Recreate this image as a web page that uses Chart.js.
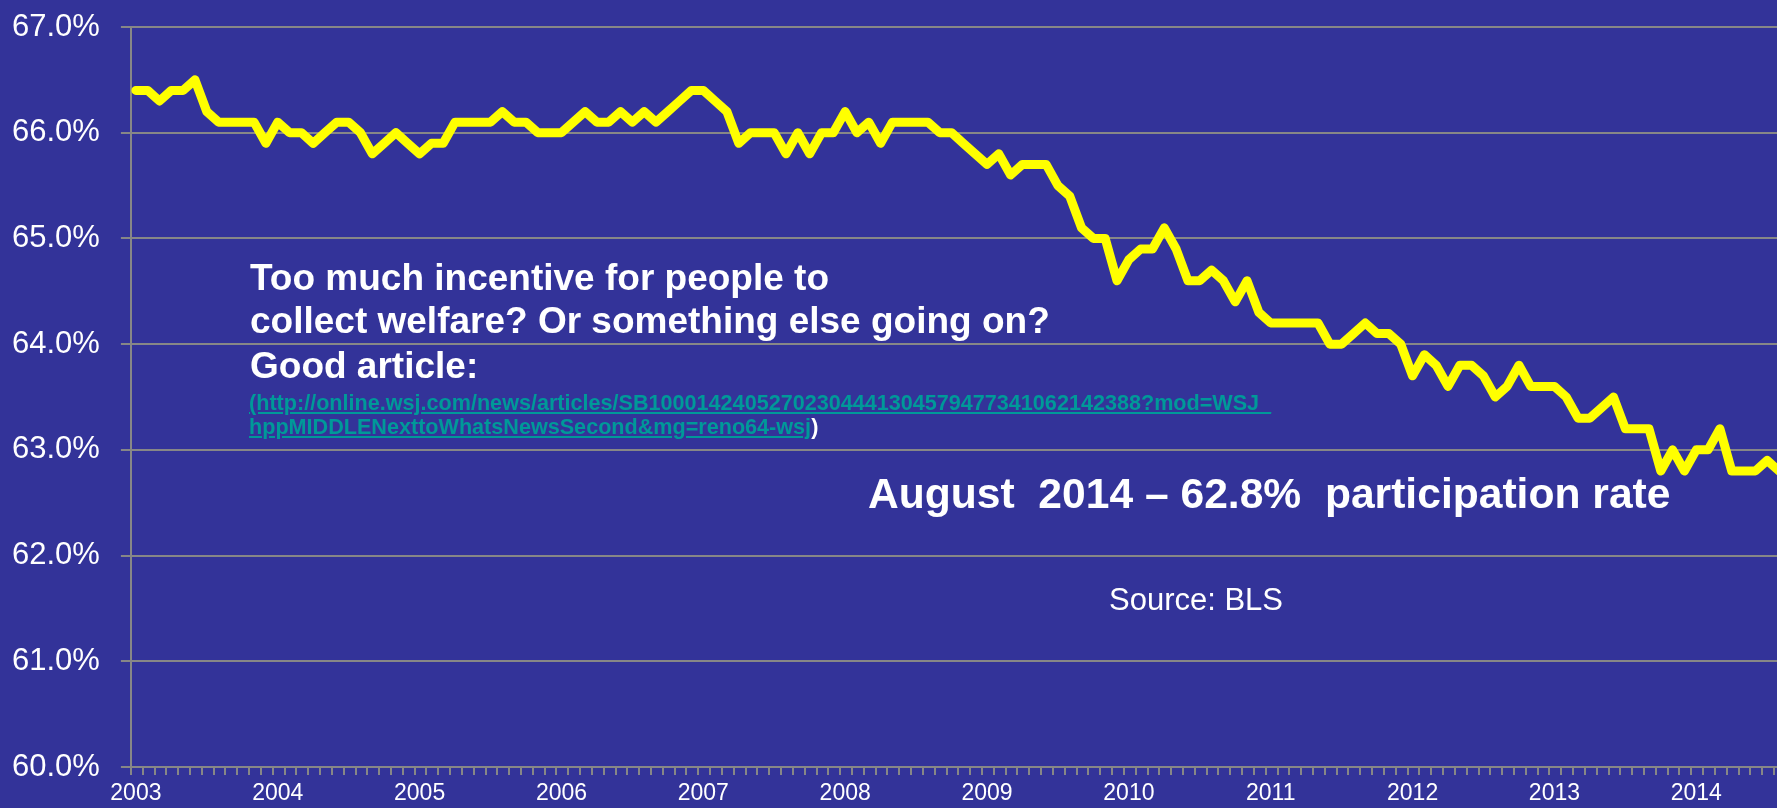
<!DOCTYPE html>
<html>
<head>
<meta charset="utf-8">
<script src="https://cdn.jsdelivr.net/npm/chart.js@4.4.1/dist/chart.umd.min.js"></script>
<style>
  html, body { margin: 0; padding: 0; background: #333399; }
  #wrap { position: relative; width: 1777px; height: 808px; overflow: hidden; background: #333399; }
  #chart-box { position: absolute; left: 0; top: 0; width: 1777px; height: 808px; }
  .note { position: absolute; white-space: nowrap; font-family: "Liberation Sans", Arial, sans-serif; color: #ffffff; line-height: 1; }
  .bold { font-weight: bold; }
  .link { color: #009999; text-decoration: underline; text-decoration-color: #009999; }
</style>
</head>
<body>
<div id="wrap">
  <div id="chart-box"><canvas id="c"></canvas></div>
  <div class="note bold" style="left:250px; top:259px; font-size:37px;">Too much incentive for people to</div>
  <div class="note bold" style="left:250px; top:302px; font-size:37px;">collect welfare? Or something else going on?</div>
  <div class="note bold" style="left:250px; top:347px; font-size:37px;">Good article:</div>
  <div class="note bold" style="left:249px; top:392px; font-size:21.6px;"><span class="link">(http://online.wsj.com/news/articles/SB10001424052702304441304579477341062142388?mod=WSJ_</span></div>
  <div class="note bold" style="left:249px; top:416px; font-size:21.6px;"><span class="link">hppMIDDLENexttoWhatsNewsSecond&amp;mg=reno64-wsj</span>)</div>
  <div class="note bold" style="left:868px; top:472px; font-size:42.6px;">August&nbsp; 2014 – 62.8%&nbsp; participation rate</div>
  <div class="note" style="left:1109px; top:584px; font-size:31px;">Source: BLS</div>
</div>
<script>
// ---- data (monthly labor force participation rate, Jan 2003 – Aug 2014) ----
const yearLabels = ['2003','2004','2005','2006','2007','2008','2009','2010','2011','2012','2013','2014'];
const participationRate = [
  66.4, 66.4, 66.3, 66.4, 66.4, 66.5, 66.2, 66.1, 66.1, 66.1, 66.1, 65.9, // 2003
  66.1, 66.0, 66.0, 65.9, 66.0, 66.1, 66.1, 66.0, 65.8, 65.9, 66.0, 65.9, // 2004
  65.8, 65.9, 65.9, 66.1, 66.1, 66.1, 66.1, 66.2, 66.1, 66.1, 66.0, 66.0, // 2005
  66.0, 66.1, 66.2, 66.1, 66.1, 66.2, 66.1, 66.2, 66.1, 66.2, 66.3, 66.4, // 2006
  66.4, 66.3, 66.2, 65.9, 66.0, 66.0, 66.0, 65.8, 66.0, 65.8, 66.0, 66.0, // 2007
  66.2, 66.0, 66.1, 65.9, 66.1, 66.1, 66.1, 66.1, 66.0, 66.0, 65.9, 65.8, // 2008
  65.7, 65.8, 65.6, 65.7, 65.7, 65.7, 65.5, 65.4, 65.1, 65.0, 65.0, 64.6, // 2009
  64.8, 64.9, 64.9, 65.1, 64.9, 64.6, 64.6, 64.7, 64.6, 64.4, 64.6, 64.3, // 2010
  64.2, 64.2, 64.2, 64.2, 64.2, 64.0, 64.0, 64.1, 64.2, 64.1, 64.1, 64.0, // 2011
  63.7, 63.9, 63.8, 63.6, 63.8, 63.8, 63.7, 63.5, 63.6, 63.8, 63.6, 63.6, // 2012
  63.6, 63.5, 63.3, 63.3, 63.4, 63.5, 63.2, 63.2, 63.2, 62.8, 63.0, 62.8, // 2013
  63.0, 63.0, 63.2, 62.8, 62.8, 62.8, 62.9, 62.8                          // 2014
];
const yMin = 60;
const yMax = 67;
const monthsPerYear = 12;

// ---- build chart ----
const points = participationRate.map((v, i) => ({ x: i, y: v }));
const tickShift = 0.42;   // month tick marks sit slightly left of the data points
const GRID = '#878787';
const FONT = '"Liberation Sans", Arial, sans-serif';

new Chart(document.getElementById('c'), {
  type: 'line',
  data: {
    datasets: [{
      data: points,
      borderColor: '#FFFF00',
      borderWidth: 9,
      pointRadius: 0,
      tension: 0,
      borderJoinStyle: 'round',
      borderCapStyle: 'round',
      fill: false
    }]
  },
  options: {
    responsive: true,
    maintainAspectRatio: false,
    animation: false,
    events: [],
    layout: { padding: { top: 27, left: 12, right: 0, bottom: 0 } },
    plugins: { legend: { display: false }, tooltip: { enabled: false }, title: { display: false } },
    scales: {
      x: {
        type: 'linear',
        min: -tickShift,
        max: 138.83,
        afterBuildTicks: (scale) => {
          scale.ticks = participationRate.map((_, i) => ({ value: i - tickShift }));
        },
        afterFit: (scale) => {
          scale.paddingLeft = 0; scale.paddingRight = 0;
          scale.height = 41;
        },
        grid: { display: true, drawOnChartArea: false, drawTicks: true, tickLength: 8, color: GRID, lineWidth: 2 },
        border: { display: true, color: GRID, width: 2 },
        ticks: {
          autoSkip: false,
          maxRotation: 0,
          minRotation: 0,
          padding: 7,
          labelOffset: 5,
          color: '#ffffff',
          font: { family: FONT, size: 23, lineHeight: 1 },
          callback: (value, index) => (index % monthsPerYear === 0 ? yearLabels[index / monthsPerYear] : '')
        }
      },
      y: {
        min: yMin,
        max: yMax,
        afterFit: (scale) => {
          scale.paddingTop = 0; scale.paddingBottom = 0;
          scale.width -= scale.options.ticks.padding;
        },
        grid: { color: GRID, lineWidth: 2, tickLength: 10, drawTicks: true },
        border: { display: true, color: GRID, width: 2 },
        ticks: {
          stepSize: 1,
          padding: 21,
          color: '#ffffff',
          font: { family: FONT, size: 31 },
          callback: (v) => v.toFixed(1) + '%'
        }
      }
    }
  }
});
</script>
</body>
</html>
